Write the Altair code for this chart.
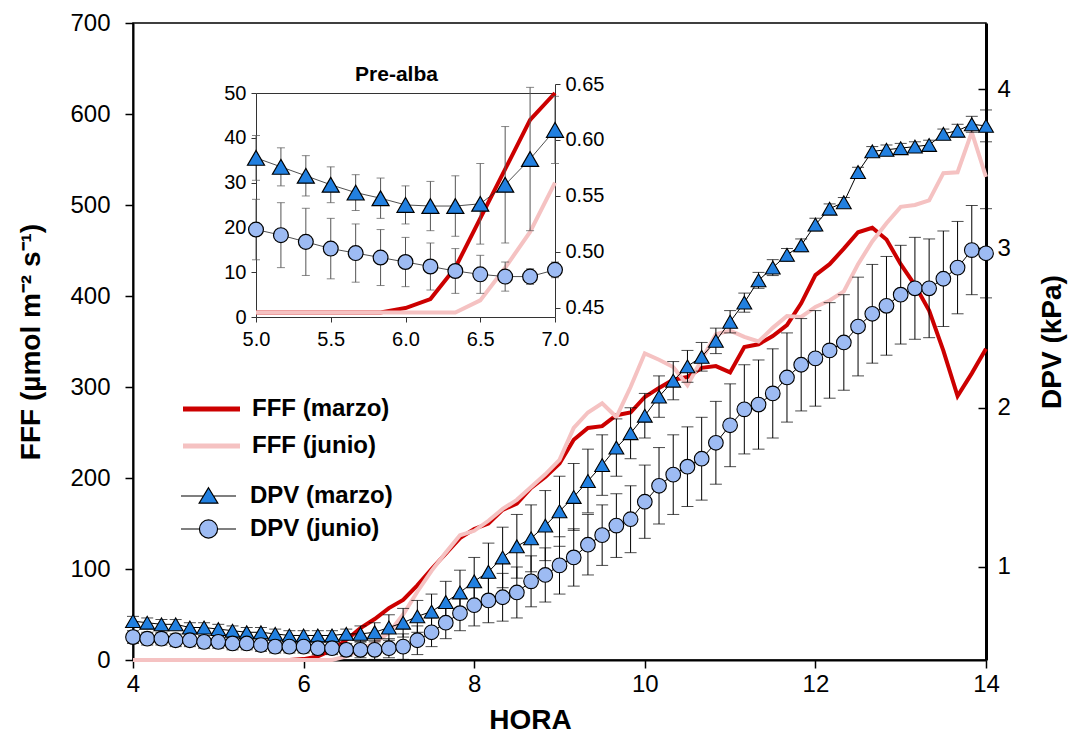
import altair as alt
import pandas as pd

# ---------------- data ----------------
HORA = [round(4 + i / 6, 4) for i in range(61)]  # every 10 min, 4:00-14:00

FFF_MARZO = [0, 0, 0, 0, 0, 0, 0, 0, 0, 0, 0, 0,
             1, 4, 11, 22, 35, 45, 57, 66, 82, 100, 117, 134, 144, 150, 165, 172, 189, 201,
             216, 242, 255, 257, 269, 272, 289, 299, 308, 311, 321, 323, 316, 344, 347, 356,
             368, 392, 423, 435, 452, 470, 475, 462, 435, 412, 384, 340, 290, 315, 342]
FFF_JUNIO = [0, 0, 0, 0, 0, 0, 0, 0, 0, 0, 0, 0, 0, 0, 0,
             4, 11, 19, 30, 50, 75, 98, 118, 137, 142, 153, 166, 176, 190, 204,
             220, 255, 272, 282, 267, 300, 337, 330, 322, 302, 330, 358, 362, 355, 350, 365,
             378, 377, 388, 395, 405, 435, 460, 480, 498, 500, 505, 535, 536, 580, 531]
DPV_MARZO = [0.66, 0.65, 0.64, 0.64, 0.62, 0.62, 0.61, 0.60, 0.59, 0.59, 0.58, 0.57, 0.57, 0.57,
             0.57, 0.58, 0.58, 0.59, 0.62, 0.65, 0.69, 0.72, 0.78, 0.84, 0.91, 0.97, 1.06, 1.13,
             1.18, 1.26, 1.35, 1.44, 1.54, 1.64, 1.75, 1.84, 1.95, 2.07, 2.17, 2.26, 2.32, 2.42,
             2.54, 2.66, 2.80, 2.88, 2.96, 3.02, 3.15, 3.25, 3.29, 3.48, 3.61, 3.62, 3.63, 3.64,
             3.65, 3.72, 3.74, 3.78, 3.77]
DPV_MARZO_ERR = [0.03] * 16 + [0.05, 0.06, 0.08, 0.09, 0.10,
                               0.11, 0.13, 0.14, 0.15, 0.18, 0.19, 0.20, 0.21, 0.22, 0.22,
                               0.21, 0.20, 0.19, 0.18, 0.16, 0.14, 0.13, 0.12, 0.10, 0.09,
                               0.08, 0.07, 0.06, 0.05, 0.05, 0.04, 0.04, 0.04, 0.03, 0.03,
                               0.03, 0.03, 0.03, 0.03, 0.03, 0.03, 0.03, 0.04, 0.05, 0.10]
DPV_JUNIO = [0.56, 0.55, 0.55, 0.54, 0.54, 0.53, 0.53, 0.52, 0.52, 0.51, 0.50, 0.50, 0.50, 0.49,
             0.49, 0.48, 0.48, 0.48, 0.49, 0.50, 0.54, 0.59, 0.65, 0.71, 0.76, 0.79, 0.81, 0.84,
             0.91, 0.95, 1.01, 1.06, 1.14, 1.20, 1.26, 1.30, 1.41, 1.51, 1.58, 1.63, 1.68, 1.78,
             1.89, 1.99, 2.02, 2.09, 2.19, 2.27, 2.31, 2.36, 2.41, 2.51, 2.59, 2.64, 2.71, 2.75,
             2.75, 2.81, 2.88, 2.99, 2.97]
DPV_JUNIO_ERR = [0.04] * 16 + [0.05, 0.06, 0.06, 0.08, 0.09,
                               0.09, 0.10, 0.11, 0.13, 0.14, 0.15, 0.16, 0.16, 0.17, 0.18,
                               0.18, 0.19, 0.19, 0.20, 0.21, 0.23, 0.24, 0.25, 0.25, 0.26,
                               0.26, 0.26, 0.28, 0.28, 0.28, 0.28, 0.29, 0.30, 0.30, 0.30,
                               0.31, 0.31, 0.31, 0.31, 0.32, 0.31, 0.30, 0.29, 0.28, 0.28]

# inset "Pre-alba" (5:00-7:00)
HORA_INSET = [round(5 + i / 6, 4) for i in range(13)]
INSET_FFF_MARZO = [1, 1, 1, 1, 1, 1, 2, 4, 11, 22, 33, 44, 57]
INSET_FFF_JUNIO = [1, 1, 1, 1, 1, 1, 1, 1, 1, 3.7, 11, 19, 30]
INSET_DPV_MARZO = [0.584, 0.576, 0.568, 0.560, 0.553, 0.548, 0.542, 0.541, 0.541, 0.543,
                   0.560, 0.583, 0.609]
INSET_DPV_MARZO_ERR = [0.020, 0.017, 0.018, 0.016, 0.016, 0.018, 0.017, 0.022, 0.027, 0.036,
                       0.052, 0.064, 0.030]
INSET_DPV_JUNIO = [0.520, 0.515, 0.509, 0.503, 0.499, 0.495, 0.491, 0.487, 0.483, 0.480,
                   0.478, 0.478, 0.484]
INSET_DPV_JUNIO_ERR = [0.027, 0.029, 0.030, 0.027, 0.026, 0.025, 0.022, 0.021, 0.020, 0.017,
                       0.013, 0.007, 0.007]

X_TICKS = [4, 6, 8, 10, 12, 14]
FFF_TICKS = [0, 100, 200, 300, 400, 500, 600, 700]
DPV_TICKS = [1, 2, 3, 4]
INSET_X_TICKS = [5.0, 5.5, 6.0, 6.5, 7.0]
INSET_FFF_TICKS = [0, 10, 20, 30, 40, 50]
INSET_DPV_TICKS = [0.45, 0.50, 0.55, 0.60, 0.65]

LABELS = ["FFF (marzo)", "FFF (junio)", "DPV (marzo)", "DPV (junio)"]

# ---------------- styling / layout ----------------
FONT = "Liberation Sans"
RED = "#cc0000"
PINK = "#f5c2c2"
TRI_BLUE = "#2280e0"
CIRC_BLUE = "#9dbbf3"
GREY = "#333333"
W, H = 853, 637
INSET_X_RANGE = [123, 422]
INSET_FFF_RANGE = [294, 70]
INSET_DPV_RANGE = [294, 61]

TRI_PATH = "M-1,0L-0.18,0M0.18,0L1,0M0,-0.3L0.34,0.26L-0.34,0.26Z"
CIRC_PATH = ("M-1,0L-0.33,0M0.33,0L1,0M0.33,0A0.33,0.33,0,1,1,-0.33,0"
             "A0.33,0.33,0,1,1,0.33,0Z")

main = pd.DataFrame({
    "hora": HORA, "fff_marzo": FFF_MARZO, "fff_junio": FFF_JUNIO,
    "dpv_marzo": DPV_MARZO, "err_marzo": DPV_MARZO_ERR,
    "dpv_junio": DPV_JUNIO, "err_junio": DPV_JUNIO_ERR,
})
inset = pd.DataFrame({
    "hora": HORA_INSET, "fff_marzo": INSET_FFF_MARZO, "fff_junio": INSET_FFF_JUNIO,
    "dpv_marzo": INSET_DPV_MARZO, "err_marzo": INSET_DPV_MARZO_ERR,
    "dpv_junio": INSET_DPV_JUNIO, "err_junio": INSET_DPV_JUNIO_ERR,
})

x_scale = alt.Scale(domain=[4, 14], nice=False, zero=False)
fff_scale = alt.Scale(domain=[0, 700], nice=False)
dpv_scale = alt.Scale(domain=[0.416, 4.416], nice=False, zero=False)
ix_scale = alt.Scale(domain=[5, 7], range=INSET_X_RANGE, nice=False, zero=False)
ifff_scale = alt.Scale(domain=[0, 50], range=INSET_FFF_RANGE, nice=False, clamp=True)
idpv_scale = alt.Scale(domain=[0.4419, 0.65], range=INSET_DPV_RANGE, nice=False, zero=False)

x_axis = alt.Axis(orient="bottom", values=X_TICKS, tickSize=8, tickWidth=1.5, domainWidth=2,
                  labelFontSize=24, labelPadding=4, labelFlush=False, title="HORA",
                  titleFontSize=28, titleFontWeight="bold", titlePadding=10, titleX=397)
fff_axis = alt.Axis(orient="left", values=FFF_TICKS, tickSize=8, tickWidth=1.5, domainWidth=2,
                    labelFontSize=24, labelPadding=15, labelFlush=False,
                    title="FFF (µmol m⁻² s⁻¹)", titleFontSize=28, titleFontWeight="bold",
                    titlePadding=24)
dpv_axis = alt.Axis(orient="right", values=DPV_TICKS, ticks=False, tickSize=0, domainWidth=3,
                    labelFontSize=24, labelPadding=11, labelFlush=False, title="DPV (kPa)",
                    titleAngle=270, titleFontSize=28, titleFontWeight="bold", titlePadding=56)
dpv_inner_ticks = alt.Axis(orient="left", offset=-W, values=DPV_TICKS, labels=False,
                           domain=False, tickSize=8, tickWidth=1.5, title=None)

ix_axis = alt.Axis(orient="bottom", offset=-343, values=INSET_X_TICKS, format=".1f", tickSize=5,
                   tickColor=GREY, domainColor=GREY, domainWidth=1, labelFontSize=20,
                   labelPadding=7, labelFlush=False, title=None)
ix_top_axis = alt.Axis(orient="top", offset=-70, values=INSET_X_TICKS, ticks=False, labels=False,
                       domainColor=GREY, domainWidth=1, title="Pre-alba", titleFontSize=21,
                       titleFontWeight="bold", titlePadding=9, titleX=263)
ifff_axis = alt.Axis(orient="left", offset=-123, values=INSET_FFF_TICKS, tickSize=5,
                     tickColor=GREY, domainColor=GREY, domainWidth=1, labelFontSize=20,
                     labelPadding=5, labelFlush=False, title=None)
idpv_axis = alt.Axis(orient="right", offset=-431, values=INSET_DPV_TICKS, format=".2f",
                     tickSize=5, tickColor=GREY, domainColor=GREY, domainWidth=1,
                     labelFontSize=20, labelPadding=5, labelFlush=False, title=None)


def legend(y, x, sym, size, sw, off, stroke=None):
    kw = dict(orient="none", legendX=x, legendY=y, title=None, symbolType=sym,
              symbolSize=size, symbolStrokeWidth=sw, labelFontSize=24, labelFont=FONT,
              labelFontWeight="bold", labelColor="black", labelOffset=off, labelLimit=400,
              padding=0, clipHeight=24)
    if stroke:
        kw["symbolStrokeColor"] = stroke
    return alt.Legend(**kw)


X_NONE = alt.X("hora:Q", scale=x_scale, axis=None)
IX_NONE = alt.X("hora:Q", scale=ix_scale, axis=None)

# ---------------- main chart ----------------
red = alt.Chart(main).transform_calculate(serie=f"'{LABELS[0]}'").mark_line(
    strokeWidth=4).encode(
    x=alt.X("hora:Q", scale=x_scale, axis=x_axis),
    y=alt.Y("fff_marzo:Q", scale=fff_scale, axis=fff_axis),
    stroke=alt.Stroke("serie:N", scale=alt.Scale(domain=[LABELS[0]], range=[RED]),
                      legend=legend(374, 47.5, "stroke", 3249, 5, 9.5)),
)
pink = alt.Chart(main).transform_calculate(serie=f"'{LABELS[1]}'").mark_line(
    strokeWidth=4).encode(
    x=X_NONE,
    y=alt.Y("fff_junio:Q", scale=fff_scale, axis=None),
    stroke=alt.Stroke("serie:N", scale=alt.Scale(domain=[LABELS[1]], range=[PINK]),
                      legend=legend(411, 47.5, "stroke", 3249, 5, 9.5)),
)

tri_err = alt.Chart(main).mark_errorbar(ticks=True, size=12, thickness=1, color="black").encode(
    x=X_NONE, y=alt.Y("dpv_marzo:Q", scale=dpv_scale, axis=None), yError="err_marzo:Q")
circ_err = alt.Chart(main).mark_errorbar(ticks=True, size=12, thickness=1, color="black").encode(
    x=X_NONE, y=alt.Y("dpv_junio:Q", scale=dpv_scale, axis=None), yError="err_junio:Q")
tri_line = alt.Chart(main).mark_line(color="black", strokeWidth=1).encode(
    x=X_NONE, y=alt.Y("dpv_marzo:Q", scale=dpv_scale, axis=dpv_axis))
circ_line = alt.Chart(main).mark_line(color="black", strokeWidth=1).encode(
    x=X_NONE, y=alt.Y("dpv_junio:Q", scale=dpv_scale, axis=dpv_inner_ticks))
tri_pts = alt.Chart(main).transform_calculate(serie=f"'{LABELS[2]}'").mark_point(
    shape="triangle-up", filled=True, size=220, stroke="black", strokeWidth=1.1,
    opacity=1).encode(
    x=X_NONE, y=alt.Y("dpv_marzo:Q", scale=dpv_scale, axis=None),
    fill=alt.Fill("serie:N", scale=alt.Scale(domain=[LABELS[2]], range=[TRI_BLUE]),
                  legend=legend(461, 47, TRI_PATH, 3025, 1.2, 13, "black")),
)
circ_pts = alt.Chart(main).transform_calculate(serie=f"'{LABELS[3]}'").mark_point(
    shape="circle", filled=True, size=215, stroke="black", strokeWidth=1.1,
    opacity=1).encode(
    x=X_NONE, y=alt.Y("dpv_junio:Q", scale=dpv_scale, axis=None),
    fill=alt.Fill("serie:N", scale=alt.Scale(domain=[LABELS[3]], range=[CIRC_BLUE]),
                  legend=legend(494, 47, CIRC_PATH, 3025, 1.2, 13, "black")),
)

# ---------------- inset ----------------
ired = alt.Chart(inset).mark_line(color=RED, strokeWidth=4).encode(
    x=alt.X("hora:Q", scale=ix_scale, axis=ix_axis),
    y=alt.Y("fff_marzo:Q", scale=ifff_scale, axis=ifff_axis))
ipink = alt.Chart(inset).mark_line(color=PINK, strokeWidth=4).encode(
    x=IX_NONE, y=alt.Y("fff_junio:Q", scale=ifff_scale, axis=None))

i_tri_err = alt.Chart(inset).mark_errorbar(ticks=True, size=8, thickness=1, color="#555555").encode(
    x=IX_NONE, y=alt.Y("dpv_marzo:Q", scale=idpv_scale, axis=None), yError="err_marzo:Q")
i_circ_err = alt.Chart(inset).mark_errorbar(ticks=True, size=8, thickness=1, color="#555555").encode(
    x=IX_NONE, y=alt.Y("dpv_junio:Q", scale=idpv_scale, axis=None), yError="err_junio:Q")
i_tri_line = alt.Chart(inset).mark_line(color="#222222", strokeWidth=0.8).encode(
    x=alt.X("hora:Q", scale=ix_scale, axis=ix_top_axis),
    y=alt.Y("dpv_marzo:Q", scale=idpv_scale, axis=idpv_axis))
i_circ_line = alt.Chart(inset).mark_line(color="#222222", strokeWidth=0.8).encode(
    x=IX_NONE, y=alt.Y("dpv_junio:Q", scale=idpv_scale, axis=None))
i_tri_pts = alt.Chart(inset).mark_point(shape="triangle-up", filled=True, size=290,
                                        stroke="black", strokeWidth=1.2, opacity=1,
                                        fill=TRI_BLUE).encode(
    x=IX_NONE, y=alt.Y("dpv_marzo:Q", scale=idpv_scale, axis=None))
i_circ_pts = alt.Chart(inset).mark_point(shape="circle", filled=True, size=220,
                                         stroke="black", strokeWidth=1.2, opacity=1,
                                         fill=CIRC_BLUE).encode(
    x=IX_NONE, y=alt.Y("dpv_junio:Q", scale=idpv_scale, axis=None))

chart = alt.layer(
    red, pink, tri_err, circ_err, tri_line, circ_line, tri_pts, circ_pts,
    ired, ipink, i_tri_err, i_circ_err, i_tri_line, i_circ_line, i_tri_pts, i_circ_pts,
).resolve_scale(
    x="independent", y="independent", fill="independent", stroke="independent"
).resolve_legend(
    fill="independent", stroke="independent"
).properties(
    width=W, height=H,
    background="white",
    autosize=alt.AutoSizeParams(type="none"),
    padding={"left": 133, "top": 23, "right": 85, "bottom": 87},
).configure_view(
    stroke="black", strokeWidth=1.5
).configure_axis(
    labelFont=FONT, titleFont=FONT, labelColor="black", titleColor="black",
    domainColor="black", tickColor="black", grid=False
)

chart.save("out.html", embed_options={"renderer": "svg", "actions": False})
